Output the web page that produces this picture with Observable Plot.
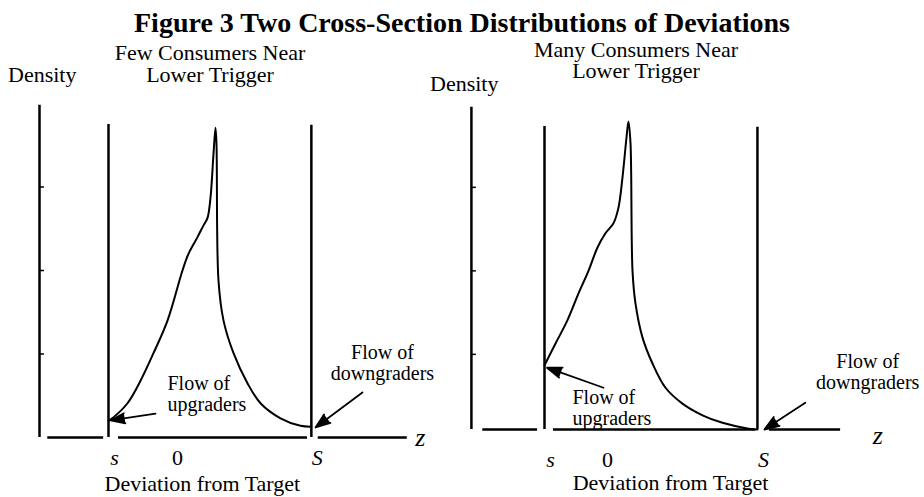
<!DOCTYPE html>
<html><head><meta charset="utf-8">
<script src="https://cdn.jsdelivr.net/npm/d3@7"></script>
<script src="https://cdn.jsdelivr.net/npm/@observablehq/plot@0.6"></script>
<style>
body{margin:0;background:#fff;}
#wrap{position:relative;width:924px;height:497px;overflow:hidden;font-family:"Liberation Serif","Times New Roman",serif;color:#000;}
.t{position:absolute;white-space:pre;line-height:1;}
.row{position:absolute;left:0;top:95px;width:924px;height:402px;}
.row svg{position:absolute;top:0;}
</style></head><body>
<div id="wrap"></div>
<script>
// ---------- text ----------
const title = "Figure 3 Two Cross-Section Distributions of Deviations";
const panelTitles = ["Few Consumers Near\nLower Trigger", "Many Consumers Near\nLower Trigger"];
const yLabel = "Density";
const xLabel = "Deviation from Target";
const axisName = "z";
const tickNames = ["s", "0", "S"];
const noteUp = "Flow of\nupgraders";
const noteDown = "Flow of\ndowngraders";

// ---------- data (deviation z in units where s = -1, density) ----------
const leftZ = [-1, -0.93, -0.725, -0.536, -0.348, -0.145, 0.072, 0.159, 0.29, 0.377, 0.435, 0.478, 0.522, 0.551, 0.565, 0.594, 0.667, 0.812, 1.014, 1.203, 1.493, 1.783, 1.94];
const leftDensity = [0.20, 0.24, 0.41, 0.68, 1.01, 1.40, 2.00, 2.20, 2.40, 2.54, 2.63, 2.87, 3.40, 3.71, 3.52, 1.88, 1.40, 1.01, 0.65, 0.41, 0.23, 0.14, 0.13];
const rightZ = [-1, -0.825, -0.635, -0.46, -0.302, -0.159, -0.032, 0.095, 0.175, 0.238, 0.302, 0.333, 0.365, 0.397, 0.444, 0.556, 0.714, 0.921, 1.19, 1.508, 1.825, 2.24, 2.38];
const rightDensity = [0.77, 1.03, 1.31, 1.63, 1.90, 2.18, 2.35, 2.47, 2.66, 3.02, 3.50, 3.69, 3.43, 1.90, 1.51, 1.10, 0.79, 0.50, 0.31, 0.17, 0.08, 0.01, 0];

// trigger values (lower s, zero, upper S) per panel
const leftTickValues = [-1, 0, 1.94];
const rightTickValues = [-1, 0, 2.38];
// density tick values on the vertical axis
const leftYTicks = [1, 2, 3];
const rightYTicks = [0.9, 1.9, 2.9];

// ---------- layout (pixels) ----------
const serif = '"Liberation Serif","Times New Roman",serif';
const W = 462, H = 402, rowTop = 95;
const uy = 83.5;
const panels = [
  {left: 0, x0: 177, ux: 69, y0: 437, z: leftZ, d: leftDensity, ticks: leftTickValues, yTicks: leftYTicks,
   axisZ: -2.0, axisTop: 3.98, trigTop: [3.75, 3.74], base: [[-1.88,-1.07],[-0.855,1.884],[2.04,3.33]],
   tickY: -0.335, tickDx: [6,0,7], zPos: [3.52,-0.1], xLabelPos: [0.36,-0.635],
   notes: [{text: noteUp, z: -0.145, d: 0.32, anchor: "start"}, {text: noteDown, z: 2.97, d: 0.69, anchor: "middle"}],
   arrows: [{z1: -0.319, d1: 0.287, z2: -0.97, d2: 0.204}, {z1: 2.68, d1: 0.54, z2: 2.0, d2: 0.12}]},
  {left: 462, x0: 607, ux: 63, y0: 429, z: rightZ, d: rightDensity, ticks: rightTickValues, yTicks: rightYTicks,
   axisZ: -2.16, axisTop: 3.86, trigTop: [3.63, 3.62], base: [[-1.98,-1.11],[-0.857,2.35],[2.57,3.70]],
   tickY: -0.455, tickDx: [4,0,7], zPos: [4.29,-0.17], xLabelPos: [1.0,-0.73],
   notes: [{text: noteUp, z: -0.556, d: 0.05, anchor: "start"}, {text: noteDown, z: 4.13, d: 0.49, anchor: "middle"}],
   arrows: [{z1: -0.063, d1: 0.50, z2: -0.96, d2: 0.74}, {z1: 3.14, d1: 0.32, z2: 2.49, d2: 0.0}]}
];

const wrap = document.getElementById("wrap");
function addText(txt, style) {
  const el = document.createElement("div");
  el.className = "t"; el.textContent = txt;
  Object.assign(el.style, style);
  wrap.appendChild(el);
}
// header (HTML)
addText(title, {left: "0px", width: "924px", textAlign: "center", top: "9px", fontSize: "28px", fontWeight: "bold"});
addText(panelTitles[0], {left: "60px", width: "300px", textAlign: "center", top: "42px", fontSize: "22px", lineHeight: "22px"});
addText(panelTitles[1], {left: "486px", width: "300px", textAlign: "center", top: "39px", fontSize: "22px", lineHeight: "21px"});
addText(yLabel, {left: "8px", top: "64px", fontSize: "22px"});
addText(yLabel, {left: "430px", top: "73px", fontSize: "22px"});

const row = document.createElement("div");
row.className = "row";
wrap.appendChild(row);

panels.forEach(p => {
  const lx0 = p.x0 - p.left, ly0 = p.y0 - rowTop;
  const curve = p.z.map((z, i) => ({z, d: p.d[i]}));
  const trig = [{z: p.ticks[0], top: p.trigTop[0]}, {z: p.ticks[2], top: p.trigTop[1]}];
  const tickLabels = tickNames.map((n, i) => ({n, z: p.ticks[i], italic: n !== "0", dx: p.tickDx[i]}));
  const tickLen = 5 / p.ux;
  const svg = Plot.plot({
    width: W, height: H, margin: 0,
    x: {domain: [-lx0 / p.ux, (W - lx0) / p.ux], axis: null},
    y: {domain: [-(H - ly0) / uy, ly0 / uy], axis: null},
    style: {background: "transparent", overflow: "visible", fontFamily: serif, color: "black"},
    marks: [
      // density axis
      Plot.ruleX([p.axisZ], {x: d => d, y1: 0, y2: p.axisTop, strokeWidth: 2.5}),
      Plot.ruleY(p.yTicks, {y: d => d, x1: p.axisZ, x2: p.axisZ + tickLen, strokeWidth: 1.5}),
      // horizontal z axis (broken segments)
      Plot.ruleY(p.base, {y: 0, x1: d => d[0], x2: d => d[1], strokeWidth: 2.5}),
      // triggers s and S
      Plot.ruleX(trig, {x: "z", y1: 0, y2: "top", strokeWidth: 2.5}),
      // density curve
      Plot.line(curve, {x: "z", y: "d", curve: "catmull-rom", strokeWidth: 2}),
      // flow arrows
      Plot.arrow(p.arrows, {x1: "z1", y1: "d1", x2: "z2", y2: "d2", stroke: "black", fill: "black", strokeWidth: 1.8, headLength: 13, headAngle: 40}),
      // flow notes
      ...p.notes.map(n => Plot.text([n], {x: "z", y: "d", text: "text", textAnchor: n.anchor, lineAnchor: "bottom", lineHeight: 1.05, fontSize: 20, fontFamily: serif})),
      // tick labels s 0 S
      Plot.text(tickLabels.filter(d => d.italic), {x: "z", y: p.tickY, text: "n", dx: 6, lineAnchor: "bottom", fontSize: 22, fontFamily: serif, fontStyle: "italic"}),
      Plot.text(tickLabels.filter(d => !d.italic), {x: "z", y: p.tickY, text: "n", lineAnchor: "bottom", fontSize: 22, fontFamily: serif}),
      // z label
      Plot.text([axisName], {x: p.zPos[0], y: p.zPos[1], text: d => d, lineAnchor: "bottom", fontSize: 26, fontStyle: "italic", fontFamily: serif}),
      // x label
      Plot.text([xLabel], {x: p.xLabelPos[0], y: p.xLabelPos[1], text: d => d, lineAnchor: "bottom", fontSize: 22, fontFamily: serif})
    ]
  });
  svg.style.left = p.left + "px";
  row.appendChild(svg);
});
</script>
</body></html>
